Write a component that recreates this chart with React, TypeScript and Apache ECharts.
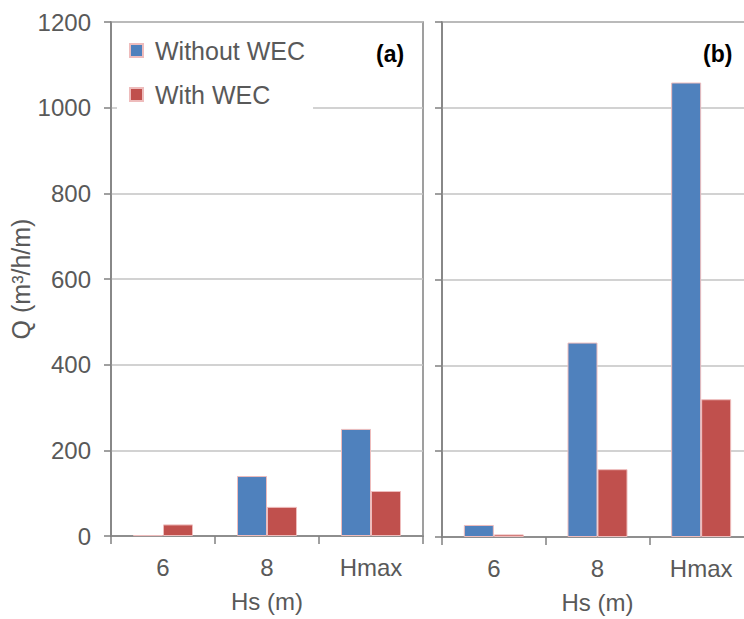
import React, { useEffect, useRef } from "react";
import * as echarts from "echarts";

const categories = ["6", "8", "Hmax"];
const withoutWecA = [2, 140, 250];
const withWecA = [27, 68, 105];
const withoutWecB = [28, 453, 1059];
const withWecB = [6, 158, 321];
const yMax = 1200;
const yInterval = 200;

const BLUE = "#4f81bd";
const RED = "#c0504d";
const BORDER = "#eebcbc";
const TXT = "#595959";
const AXIS = "#808080";
const FONT = "Liberation Sans, Arial, sans-serif";
const W = 760;

export default function App() {
  const ref = useRef<HTMLDivElement>(null);
  useEffect(() => {
    const chart = echarts.init(ref.current!, null, { renderer: "svg" });
    const xAxisCommon = (gridIndex: number) => ({
      type: "category",
      gridIndex,
      data: categories,
      axisLine: { lineStyle: { color: AXIS, width: 1.5 } },
      axisTick: { show: true, length: 8, lineStyle: { color: AXIS, width: 1.5 } },
      axisLabel: { color: TXT, fontSize: 24, fontFamily: FONT, margin: 19 },
      name: "Hs (m)",
      nameLocation: "middle",
      nameGap: 53,
      nameTextStyle: { color: TXT, fontSize: 24, fontFamily: FONT },
    });
    const yAxisCommon = (gridIndex: number, showLabel: boolean) => ({
      type: "value",
      gridIndex,
      min: 0,
      max: yMax,
      interval: yInterval,
      axisLine: { show: true, lineStyle: { color: AXIS, width: 1.5 } },
      axisTick: { show: true, length: 7, lineStyle: { color: AXIS, width: 1.5 } },
      axisLabel: {
        show: showLabel,
        color: TXT,
        fontSize: 24,
        fontFamily: FONT,
        margin: 20,
        formatter: (v: number) => String(v),
      },
      splitLine: { show: true, lineStyle: { color: "#c3c3c3", width: 1.5 } },
    });
    const barCommon = {
      type: "bar",
      barWidth: 30,
      barGap: "0%",
    };
    chart.setOption({
      animation: false,
      grid: [
        { left: 111, right: W - 423, top: 22, bottom: 83, show: true, borderColor: AXIS, borderWidth: 1.5 },
        { left: 442, right: W - 753, top: 22, bottom: 81, show: true, borderColor: AXIS, borderWidth: 1.5 },
      ],
      xAxis: [xAxisCommon(0), xAxisCommon(1)],
      yAxis: [
        {
          ...yAxisCommon(0, true),
          name: "Q (m³/h/m)",
          nameLocation: "middle",
          nameGap: 60,
          nameTextStyle: { color: TXT, fontSize: 25, fontFamily: FONT },
        },
        yAxisCommon(1, false),
      ],
      legend: {
        orient: "vertical",
        left: 117,
        top: 28,
        backgroundColor: "#ffffff",
        padding: [10, 8, 6, 12],
        itemGap: 19,
        itemWidth: 13,
        itemHeight: 13,
        icon: "rect",
        data: ["Without WEC", "With WEC"],
        textStyle: { color: TXT, fontSize: 25, fontFamily: FONT, padding: [0, 0, 0, 7] },
      },
      graphic: [
        {
          type: "text",
          left: 376,
          top: 42,
          style: { text: "(a)", fill: "#000", font: "bold 23px Liberation Sans, Arial, sans-serif" },
        },
        {
          type: "text",
          left: 703,
          top: 42,
          style: { text: "(b)", fill: "#000", font: "bold 23px Liberation Sans, Arial, sans-serif" },
        },
      ],
      series: [
        { ...barCommon, name: "Without WEC", xAxisIndex: 0, yAxisIndex: 0, data: withoutWecA, itemStyle: { color: BLUE, borderColor: BORDER, borderWidth: 1 } },
        { ...barCommon, name: "With WEC", xAxisIndex: 0, yAxisIndex: 0, data: withWecA, itemStyle: { color: RED, borderColor: BORDER, borderWidth: 1 } },
        { ...barCommon, name: "Without WEC", xAxisIndex: 1, yAxisIndex: 1, data: withoutWecB, itemStyle: { color: BLUE, borderColor: BORDER, borderWidth: 1 } },
        { ...barCommon, name: "With WEC", xAxisIndex: 1, yAxisIndex: 1, data: withWecB, itemStyle: { color: RED, borderColor: BORDER, borderWidth: 1 } },
      ],
    });
    return () => chart.dispose();
  }, []);
  return (
    <div style={{ position: "absolute", left: 0, top: 0, width: 744, height: 619, overflow: "hidden" }}>
      <div ref={ref} style={{ width: W, height: 619 }} />
    </div>
  );
}
